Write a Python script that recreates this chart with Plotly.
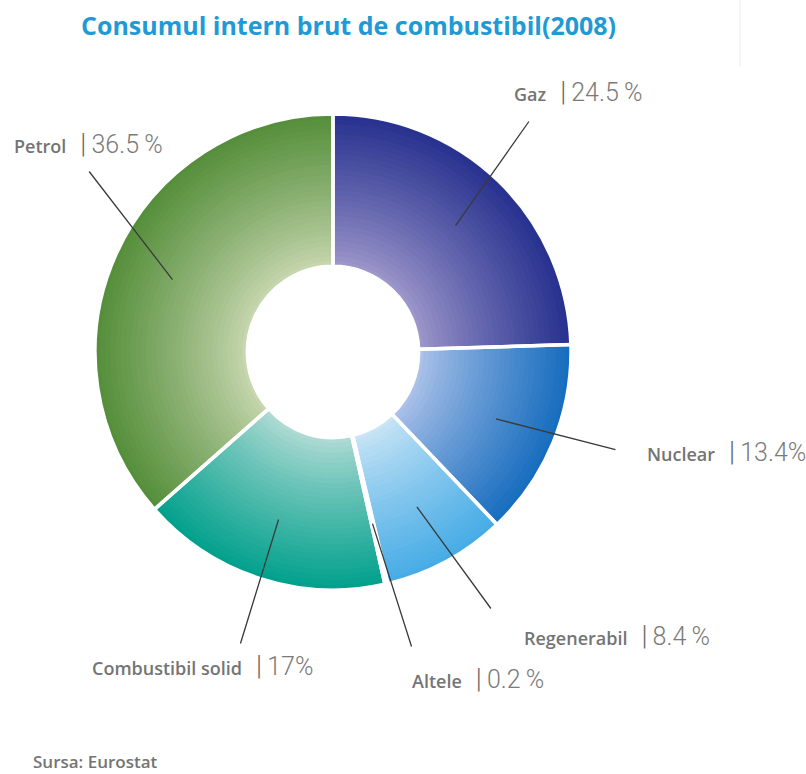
import math
import plotly.graph_objects as go

# Gross inland fuel consumption, 2008 (share, %)
labels = ["Gaz", "Nuclear", "Regenerabil", "Altele", "Combustibil solid", "Petrol"]
values = [24.5, 13.4, 8.4, 0.2, 17, 36.5]

# per-slice radial gradient: colour near the hole -> colour at the rim
inner_colors = ["#a099cc", "#b0c4ea", "#cce6f6", "#b8dccc", "#b4dcd6", "#cad8b2"]
outer_colors = ["#26318e", "#156cbe", "#45abe6", "#9ccfb8", "#00a08c", "#548e3a"]

W, H = 806, 774
CX, CY, R = 333, 352, 238      # donut centre and radius (px)
HOLE = 0.36
N_RINGS = 30


def hex_rgb(c):
    c = c.lstrip("#")
    return tuple(int(c[i:i + 2], 16) for i in (0, 2, 4))


def mix(c1, c2, t):
    a, b = hex_rgb(c1), hex_rgb(c2)
    return "rgb(%d,%d,%d)" % tuple(round(a[i] + (b[i] - a[i]) * t) for i in range(3))


def domain_for(r):
    return dict(x=[(CX - r) / W, (CX + r) / W], y=[1 - (CY + r) / H, 1 - (CY - r) / H])


fig = go.Figure()

# concentric rings, outermost first; each smaller pie is painted over the previous one
for k in range(N_RINGS):
    f = 1 - k * (1 - HOLE) / N_RINGS
    t = (f - (1 - HOLE) / (2 * N_RINGS) - HOLE) / (1 - HOLE)
    t = max(0.0, min(1.0, t))
    fig.add_trace(go.Pie(
        values=values, labels=labels, sort=False, direction="clockwise", rotation=0,
        hole=HOLE / f, domain=domain_for(R * f),
        marker=dict(colors=[mix(ci, co, t ** 0.85) for ci, co in zip(inner_colors, outer_colors)],
                    line=dict(width=0)),
        textinfo="none", hoverinfo="skip", showlegend=False,
    ))

# white separators between slices
fig.add_trace(go.Pie(
    values=values, labels=labels, sort=False, direction="clockwise", rotation=0,
    hole=HOLE, domain=domain_for(R),
    marker=dict(colors=["rgba(0,0,0,0)"] * len(values), line=dict(color="white", width=3.5)),
    textinfo="none", hoverinfo="skip", showlegend=False,
))

# label positions (left edge x, centre y) and leader-line ends, in px
label_pos = {
    "Gaz": (512, 92),
    "Nuclear": (645, 452),
    "Regenerabil": (522, 636),
    "Altele": (410, 679),
    "Combustibil solid": (90, 666),
    "Petrol": (12, 144),
}
line_end = {
    "Gaz": (530, 120),
    "Nuclear": (617, 450),
    "Regenerabil": (492, 610),
    "Altele": (412, 648),
    "Combustibil solid": (240, 645),
    "Petrol": (88, 170),
}
spaced_pct = {"Gaz", "Petrol", "Regenerabil", "Altele"}

NUM_STYLE = "font-size:25px;color:#7a7a7a;font-family:Roboto;font-weight:300"
BAR_STYLE = "font-size:27px;color:#666666;font-family:Roboto;font-weight:300"
GAP = "\u00a0\u00a0\u00a0"

annotations = []
total = sum(values)
cum = 0.0
for name, v in zip(labels, values):
    mid = (cum + v / 2) / total * 2 * math.pi
    cum += v
    tx = CX + 0.74 * R * math.sin(mid)
    ty = CY - 0.74 * R * math.cos(mid)
    ex, ey = line_end[name]
    annotations.append(dict(
        x=tx / W, y=1 - ty / H, xref="paper", yref="paper", text="",
        showarrow=True, arrowhead=0, arrowwidth=1.3, arrowcolor="#3a3a3a",
        ax=ex - tx, ay=ey - ty, standoff=0, startstandoff=0,
    ))
    lx, ly = label_pos[name]
    num = f"{v:g}" + ("\u2009%" if name in spaced_pct else "%")
    annotations.append(dict(
        x=lx / W, y=1 - ly / H, xref="paper", yref="paper", xanchor="left", yanchor="middle",
        showarrow=False,
        text=(f"{name}{GAP}<span style='{BAR_STYLE}'>|</span>"
              f"<span style='{NUM_STYLE}'>\u2009{num}</span>"),
        font=dict(family="Open Sans", size=18, color="#747474", weight=600),
    ))

annotations.append(dict(
    x=348 / W, y=1 - 25 / H, xref="paper", yref="paper", xanchor="center", yanchor="middle",
    showarrow=False, text="Consumul intern brut de combustibil(2008)",
    font=dict(family="Open Sans", size=25, color="#1e9ad6", weight=700),
))
annotations.append(dict(
    x=31 / W, y=1 - 761 / H, xref="paper", yref="paper", xanchor="left", yanchor="middle",
    showarrow=False, text="Sursa: Eurostat",
    font=dict(family="Open Sans", size=17, color="#747474", weight=600),
))

fig.update_layout(
    width=W, height=H, margin=dict(l=0, r=0, t=0, b=0),
    paper_bgcolor="white", plot_bgcolor="white",
    annotations=annotations,
    shapes=[dict(type="line", xref="paper", yref="paper", x0=740 / W, x1=740 / W,
                 y0=1 - 66 / H, y1=1, line=dict(color="#ececec", width=1))],
)

fig.write_html("out.html")
